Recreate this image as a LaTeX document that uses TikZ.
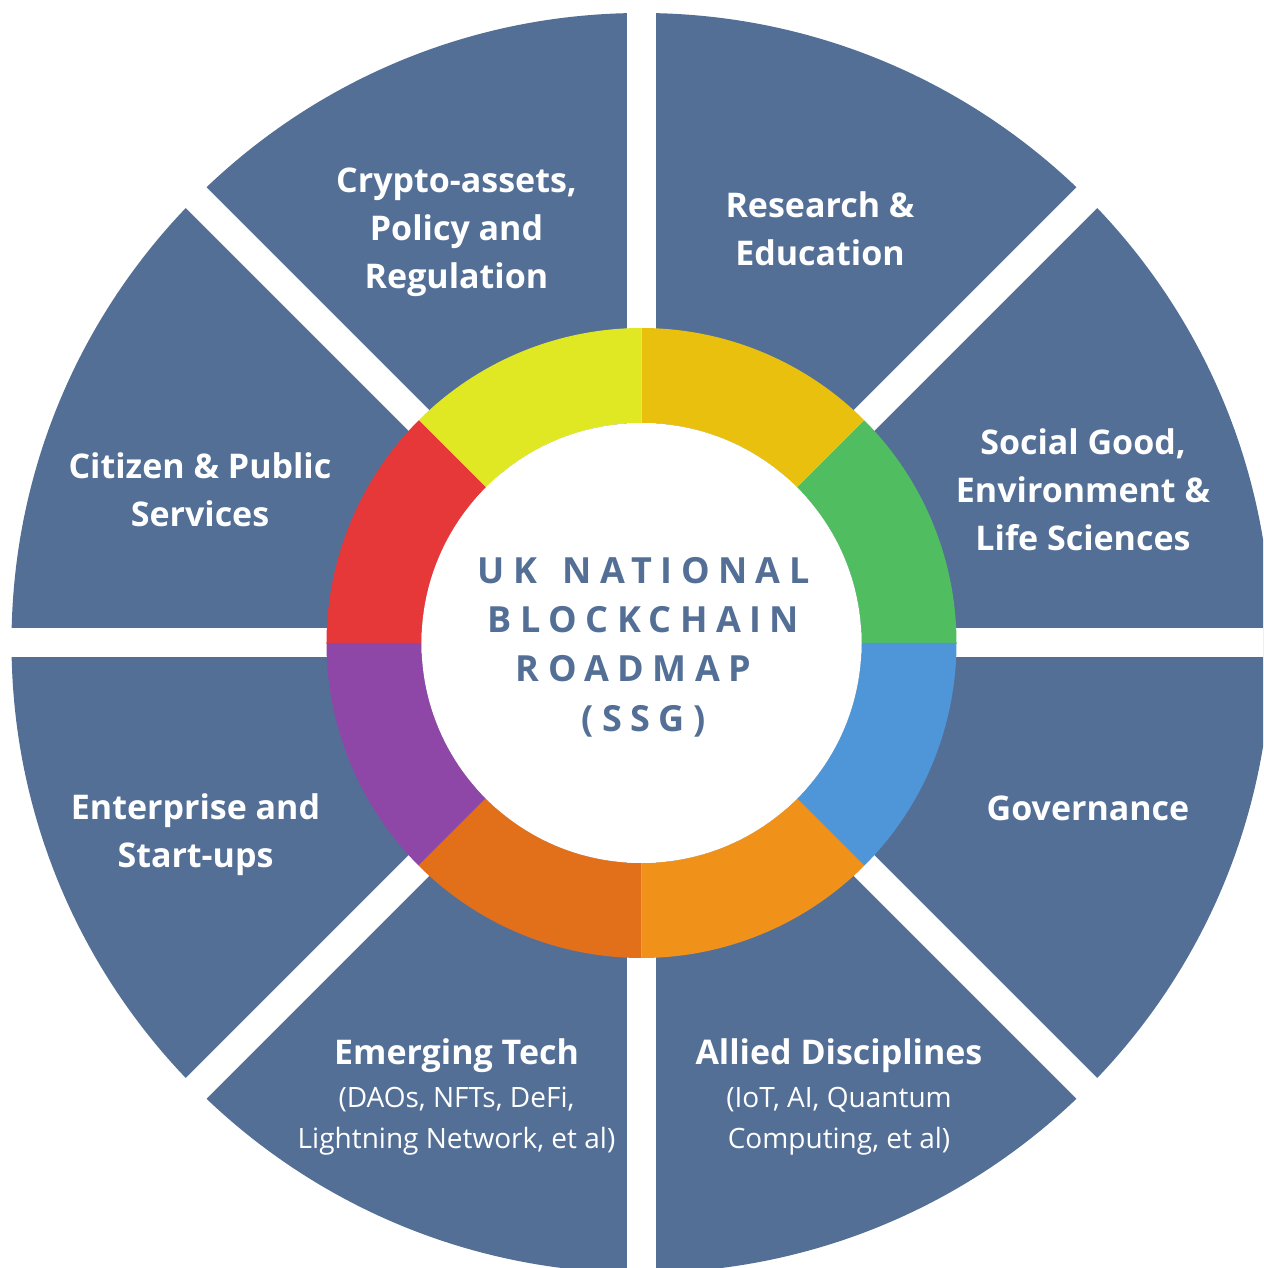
\documentclass[tikz,border=0pt]{standalone}
\usepackage{fontspec}
\setmainfont{Open Sans}
\definecolor{sect}{HTML}{536F96}
\definecolor{cgreen}{HTML}{50BE60}
\definecolor{cgold}{HTML}{E8C00D}
\definecolor{clime}{HTML}{E0E824}
\definecolor{cred}{HTML}{E63838}
\definecolor{cpurple}{HTML}{8E47A6}
\definecolor{cdorange}{HTML}{E2701A}
\definecolor{corange}{HTML}{F0911A}
\definecolor{cblue}{HTML}{4F96D8}
\begin{document}
\begin{tikzpicture}[x=1pt,y=1pt,
  title/.style={text=white,align=center,inner sep=0pt,font=\fontsize{34}{48}\bfseries\selectfont},
  subtitle/.style={text=white,align=center,inner sep=0pt,font=\fontsize{28}{41}\selectfont},
  centre/.style={text=sect,align=center,inner sep=0pt,font=\fontsize{36}{49.3}\bfseries\addfontfeature{LetterSpace=23.5}\selectfont}]
\useasboundingbox (-641.5,-625) rectangle (621.5,643);
\begin{scope}
  \clip (-641.5,-625) rectangle (621.5,643);
  \fill[sect] (0,0) circle (630);
  \foreach \a in {0,45,90,135}
    \fill[white,rotate=\a] (-700,-14.5) rectangle (700,14.5);
\end{scope}
\foreach \a/\c in {0/cgreen,45/cgold,90/clime,135/cred,180/cpurple,225/cdorange,270/corange,315/cblue}
  \fill[\c] (\a:315) arc[start angle=\a,end angle=\a+45,radius=315] -- (\a+45:220) arc[start angle=\a+45,end angle=\a,radius=220] -- cycle;
\fill[white] (0,0) circle (220);
\node[centre] (hub) at (2,-4) {UK\hspace{8pt} NATIONAL\\BLOCKCHAIN\\ROADMAP\hspace{20pt}\mbox{}\\(SSG)};
\node[title] (crypto) at (-185,411) {Crypto-assets,\\Policy and\\Regulation};
\node[title] (research) at (178.5,414.5) {Research \&\\Education};
\node[title] (social) at (441.5,153) {Social Good,\\Environment \&\\Life Sciences};
\node[title] (gov) at (446.5,-165) {Governance};
\node[title] (allied) at (197.5,-413) {Allied Disciplines};
\node[subtitle] (alliedsub) at (197.5,-478.5) {(IoT, AI, Quantum\\Computing, et al)};
\node[title] (emerging) at (-185,-413) {Emerging Tech};
\node[subtitle] (emergingsub) at (-185,-478.5) {(DAOs, NFTs, DeFi,\\Lightning Network, et al)};
\node[title] (enterprise) at (-446,-192) {Enterprise and\\Start-ups};
\node[title] (citizen) at (-441.5,153) {Citizen \& Public\\Services};
\end{tikzpicture}
\end{document}
